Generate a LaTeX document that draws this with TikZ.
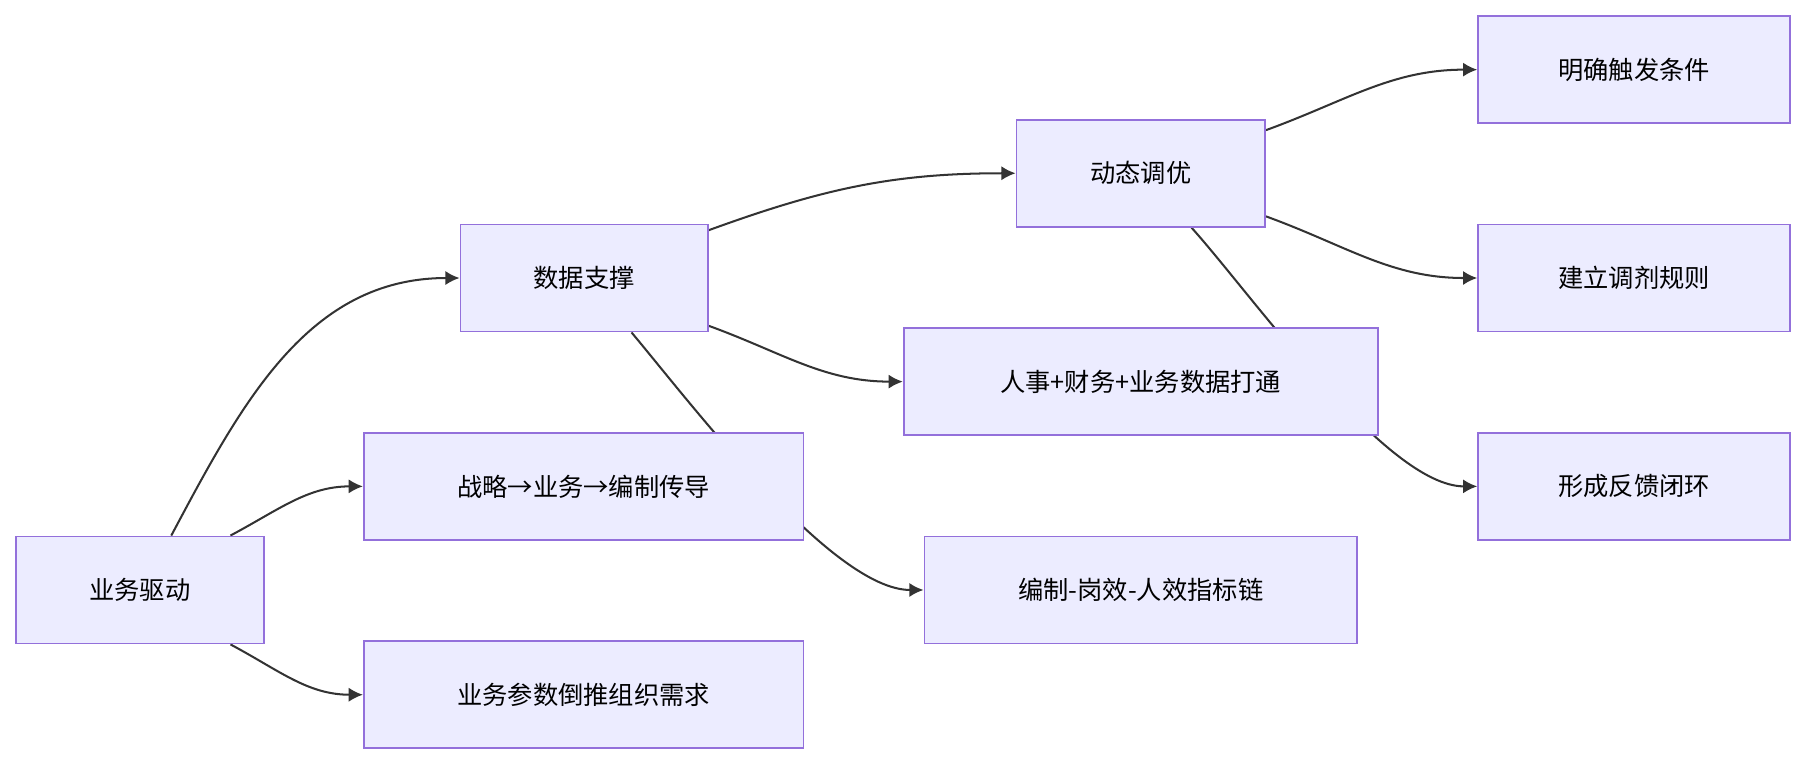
\documentclass[tikz,border=0pt]{standalone}
\usepackage{fontspec}
\setmainfont{Noto Sans CJK SC}
\usetikzlibrary{backgrounds,arrows.meta}
\definecolor{boxfill}{HTML}{ECECFF}
\definecolor{boxline}{HTML}{9370DB}
\definecolor{edge}{HTML}{333333}
\tikzset{
  box/.style={draw=boxline, fill=boxfill, line width=0.9pt, minimum height=1.86cm, font=\fontsize{12.5}{15}\selectfont},
  arr/.style={draw=edge, line width=1pt, -{Latex[length=7pt,width=7pt]}},
  lnk/.style={draw=edge, line width=1pt}
}
\begin{document}
\begin{tikzpicture}[x=0.02cm,y=-0.02cm]
\useasboundingbox (0,0) rectangle (1568,664);
\node[box, minimum width=4.3cm] (drive) at (121.5,512.5) {业务驱动};
\node[box, minimum width=4.3cm] (data) at (507.5,241.5) {数据支撑};
\node[box, minimum width=7.64cm] (chain) at (507,422.5) {战略→业务→编制传导};
\node[box, minimum width=7.64cm] (param) at (507,603.5) {业务参数倒推组织需求};
\node[box, minimum width=4.32cm] (tune) at (991,150.5) {动态调优};
\node[box, minimum width=8.24cm] (merge) at (991,331.5) {人事+财务+业务数据打通};
\node[box, minimum width=7.52cm] (kpi) at (991,512.5) {编制-岗效-人效指标链};
\node[box, minimum width=5.42cm] (trig) at (1419.5,60.5) {明确触发条件};
\node[box, minimum width=5.42cm] (rule) at (1419.5,241.5) {建立调剂规则};
\node[box, minimum width=5.42cm] (loop) at (1419.5,422.5) {形成反馈闭环};
\begin{scope}[on background layer]
\draw[arr] (drive.60) to[out=62,in=180] (data.west);
\draw[arr] (drive.31) to[out=28,in=180] (chain.west);
\draw[arr] (drive.-31) to[out=-28,in=180] (param.west);
\draw[arr] (data.21) to[out=20,in=180] (tune.west);
\draw[arr] (data.-21) to[out=-20,in=180] (merge.west);
\draw[arr] (data.-49) to[out=-50,in=180,looseness=0.6] (kpi.west);
\draw[arr] (tune.19.6) to[out=20,in=180] (trig.west);
\draw[arr] (tune.-19.6) to[out=-20,in=180] (rule.west);
\draw[arr] (tune.-47) to[out=-48,in=180,looseness=0.6] (loop.west);
\end{scope}
\end{tikzpicture}
\end{document}
